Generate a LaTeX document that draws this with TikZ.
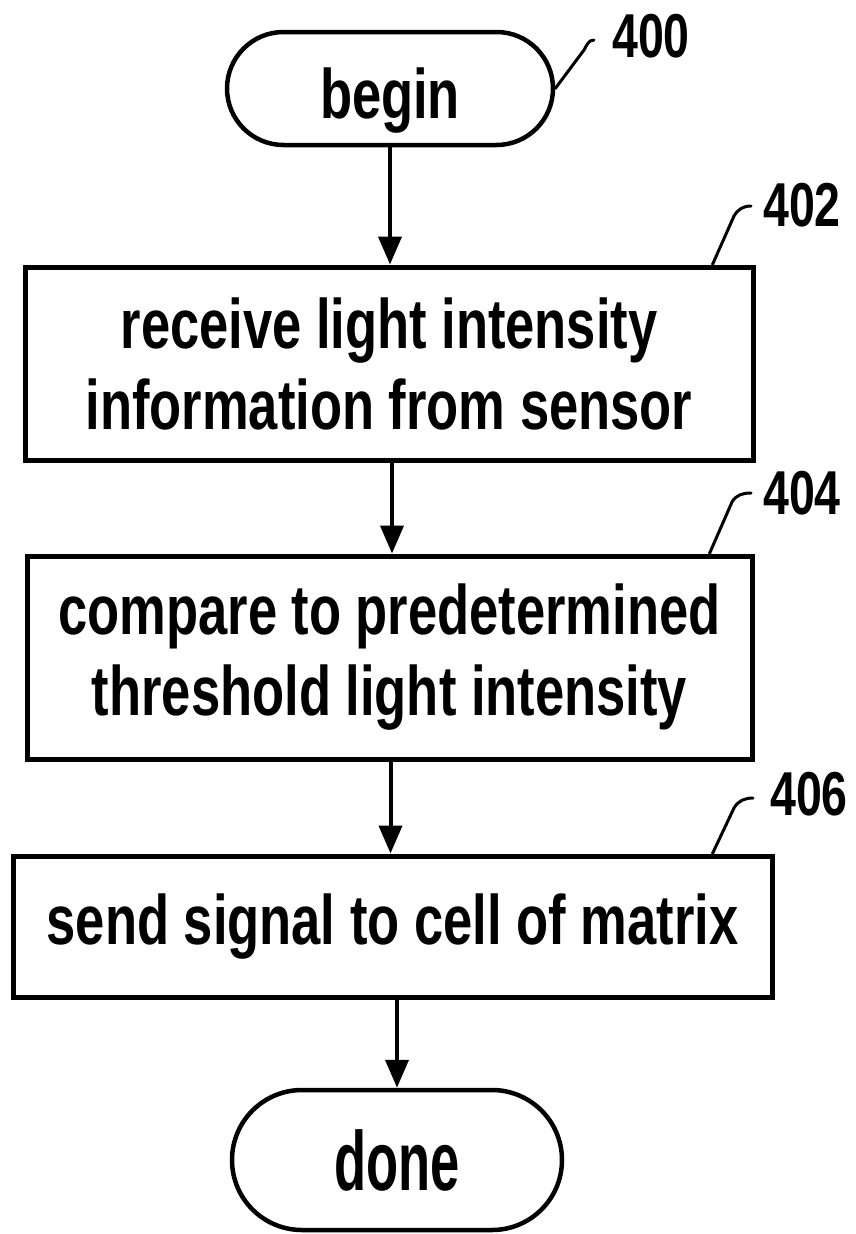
\documentclass[tikz,border=0pt]{standalone}
\usepackage{fontspec}
\setmainfont{Liberation Sans}[FakeStretch=0.75]
\usetikzlibrary{shapes.misc,arrows.meta,calc}
\begin{document}
\begin{tikzpicture}[x=1pt,y=-1pt,
  box/.style={draw,line width=5pt,rectangle,inner sep=0pt,align=center,
    font=\fontsize{70}{81}\bfseries\selectfont},
  term/.style={draw,line width=4.5pt,rounded rectangle,inner sep=0pt,
    font=\fontsize{70}{81}\bfseries\selectfont},
  lbl/.style={anchor=west,inner sep=0pt,font=\fontsize{62}{62}\bfseries\selectfont},
  arr/.style={line width=4pt,-{Triangle[length=28pt,width=23pt]}},
  leader/.style={line width=3pt,line cap=round}]
\useasboundingbox (0,0) rectangle (856,1234);
\node[term,minimum width=326,minimum height=113] (begin) at (390,88.5)
  {\raisebox{-12pt}[\height][\depth]{begin}};
\node[box,minimum width=728,minimum height=193] (n402) at (389,363.5)
  {receive light intensity\\information from sensor};
\node[box,minimum width=725,minimum height=203] (n404) at (389.5,657.5)
  {compare to predetermined\\threshold light intensity};
\node[box,minimum width=759,minimum height=141] (n406) at (392.5,926.5)
  {send signal to cell of matrix};
\node[term,minimum width=330,minimum height=140] (done) at (397,1160)
  {\scalebox{1}[1.2]{done}};
\node[lbl] (l400) at (612,36) {400};
\node[lbl] (l402) at (763,205) {402};
\node[lbl] (l404) at (763,493) {404};
\node[lbl] (l406) at (770,794) {406};
% arrows
\draw[arr] (begin.south) -- (begin.south |- n402.north);
\draw[arr] ([xshift=3pt]n402.south) -- ([xshift=3pt]n402.south |- n404.north);
\draw[arr] ([xshift=1pt]n404.south) -- ([xshift=1pt]n404.south |- n406.north);
\draw[arr] ([xshift=4.5pt]n406.south) -- (done.north);
% leaders
\draw[leader] (begin.east) -- (584,50) to[out=60,in=180] ($(l400.west)+(-18,4)$);
\draw[leader] ($(n402.north east)+(-43,0)$) -- (734,216) to[out=60,in=180] ($(l402.west)+(-12,1)$);
\draw[leader] ($(n404.north east)+(-45,0)$) -- (732,502) to[out=60,in=180] ($(l404.west)+(-12,0)$);
\draw[leader] ($(n406.north east)+(-62,0)$) -- (734,808) to[out=60,in=180] ($(l406.west)+(-17,4)$);
\end{tikzpicture}
\end{document}
